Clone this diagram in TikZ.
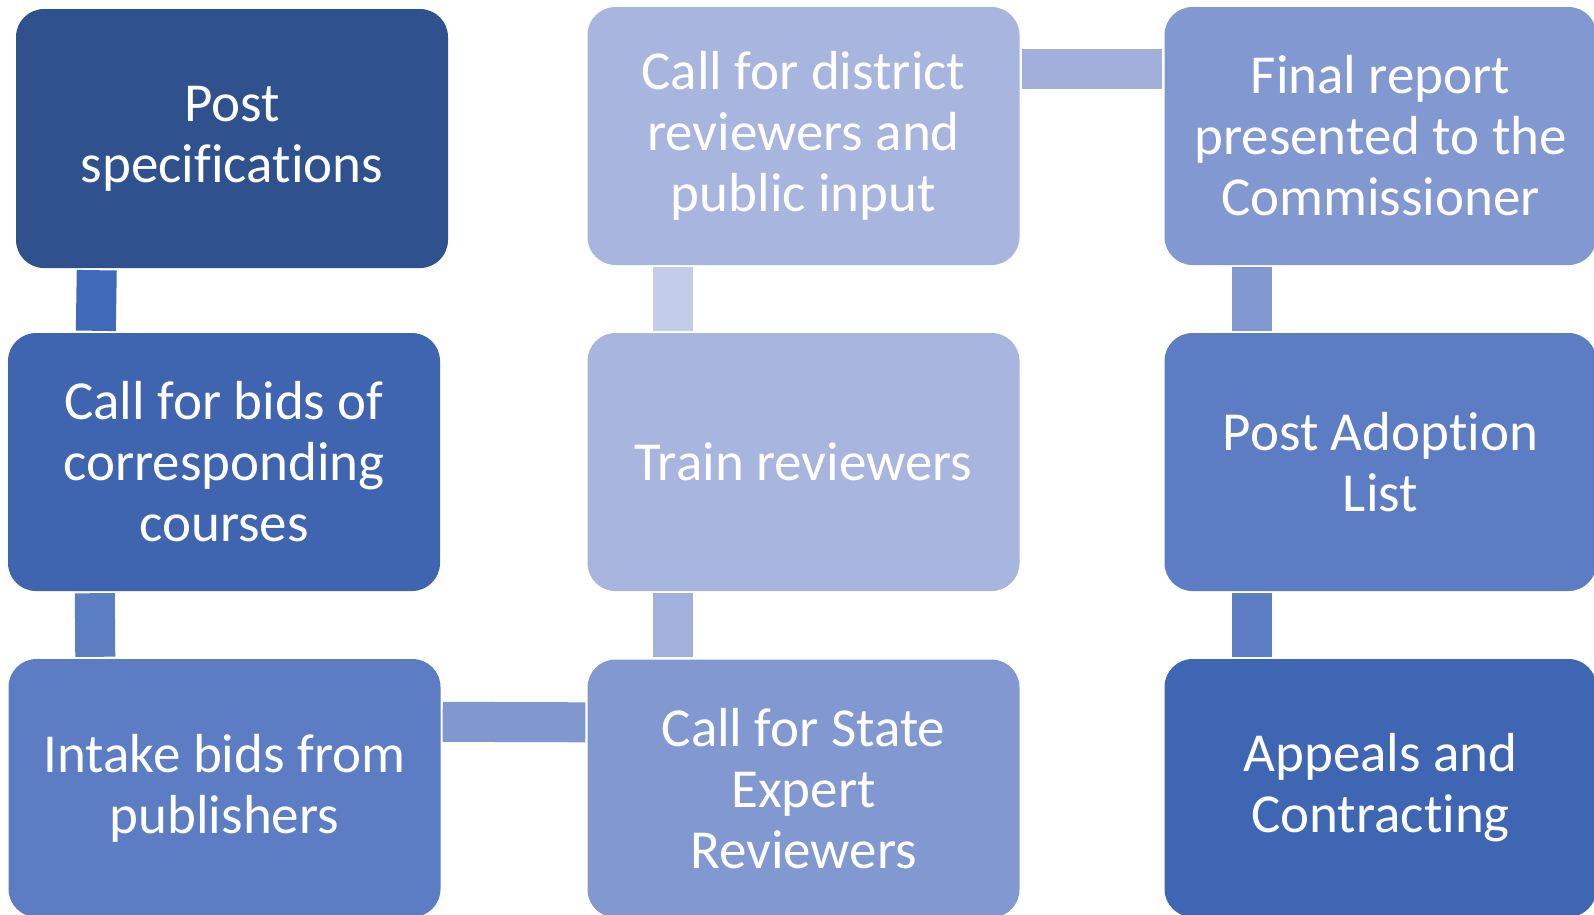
\documentclass[tikz,border=0pt]{standalone}
\usepackage{fontspec}
\setmainfont{Carlito}[Ligatures=NoCommon]
\usepackage{xcolor}
\usepackage{tikz}
\usetikzlibrary{positioning,backgrounds,calc}
\definecolor{stepA}{HTML}{2F528F}
\definecolor{stepB}{HTML}{3F64B0}
\definecolor{stepC}{HTML}{5C7DC3}
\definecolor{stepD}{HTML}{8298D0}
\definecolor{stepE}{HTML}{A8B5DE}
\definecolor{stepF}{HTML}{3F66B2}
\definecolor{barA}{HTML}{4069B8}
\definecolor{barB}{HTML}{5B7DC2}
\definecolor{barC}{HTML}{8198CF}
\definecolor{barD}{HTML}{A2B1DC}
\definecolor{barE}{HTML}{C3CCE8}
\definecolor{barF}{HTML}{A1AFDA}
\tikzset{
  stepbox/.style={rectangle,fill=#1,rounded corners=28pt,text=white,
    align=center,inner sep=0pt,minimum width=432pt,minimum height=258pt,
    font=\fontsize{55}{61}\selectfont},
  bar/.style={draw=#1,line width=40pt,shorten <=2pt,shorten >=2pt},
}

\begin{document}
\begin{tikzpicture}[x=1pt,y=-1pt]
  \clip (0,0) rectangle (1594,914);
  % left column
  \node[stepbox=stepA,minimum height=259pt] (ps) at (232,138.5) {Post\\specifications};
  \node[stepbox=stepB] (cb) at (224,462) {Call for bids of\\corresponding\\courses};
  \node[stepbox=stepC] (ib) at (224.5,788) {Intake bids from\\publishers};
  % middle column
  \node[stepbox=stepD] (cs) at (803.5,788.5) {Call for State\\Expert\\Reviewers};
  \node[stepbox=stepE] (tr) at (803.5,462) {Train reviewers};
  \node[stepbox=stepE] (cd) at (803.5,136) {Call for district\\reviewers and\\public input};
  % right column
  \node[stepbox=stepD] (fr) at (1380.5,136) {Final report\\presented to the\\Commissioner};
  \node[stepbox=stepC] (pa) at (1380.5,462) {Post Adoption\\List};
  \node[stepbox=stepF] (ac) at (1380.5,788) {Appeals and\\Contracting};
  \begin{scope}[on background layer]
    \draw[bar=barA] ([xshift=81pt]ps.south west) -- ([xshift=88pt]cb.north west);
    \draw[bar=barB] ([xshift=87pt]cb.south west) -- ([xshift=87pt]ib.north west);
    \draw[bar=barC] ([yshift=-63pt]ib.north east) -- ([yshift=-63pt]cs.north west);
    \draw[bar=barD] ([xshift=85.5pt]cs.north west) -- ([xshift=85.5pt]tr.south west);
    \draw[bar=barE] ([xshift=85.5pt]tr.north west) -- ([xshift=85.5pt]cd.south west);
    \draw[bar=barF] ([yshift=-62.5pt]cd.north east) -- ([yshift=-62.5pt]fr.north west);
    \draw[bar=stepD] ([xshift=87.5pt]fr.south west) -- ([xshift=87.5pt]pa.north west);
    \draw[bar=stepC] ([xshift=87.5pt]pa.south west) -- ([xshift=87.5pt]ac.north west);
  \end{scope}
\end{tikzpicture}
\end{document}
